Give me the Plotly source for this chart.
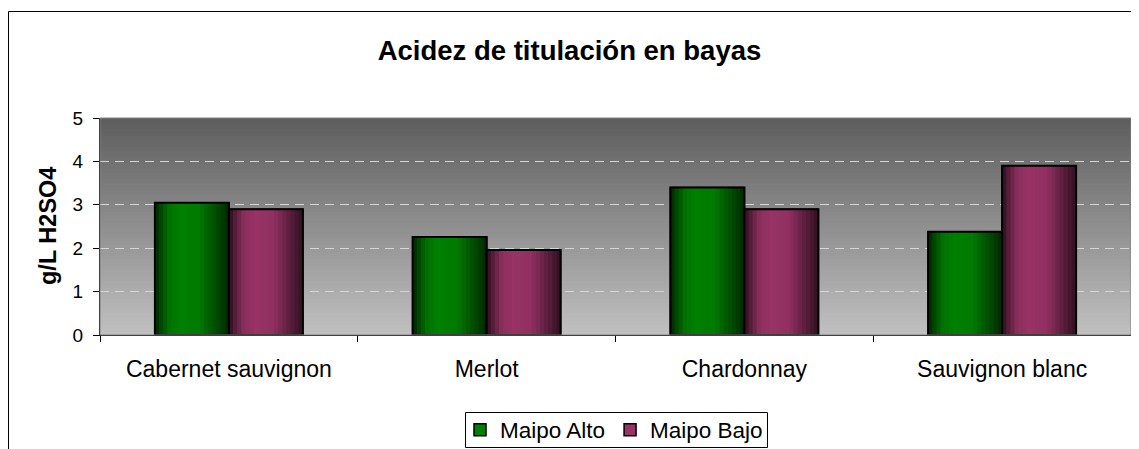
import plotly.graph_objects as go

# ---- data ----
categories = ["Cabernet sauvignon", "Merlot", "Chardonnay", "Sauvignon blanc"]
maipo_alto = [3.05, 2.26, 3.40, 2.38]
maipo_bajo = [2.90, 1.96, 2.90, 3.90]
series_names = ["Maipo Alto", "Maipo Bajo"]
title_text = "Acidez de titulación en bayas"
y_title = "g/L H2SO4"

# ---- styling ----
FONT = "Liberation Sans, Arial, sans-serif"
base_colors = [(0, 128, 0), (153, 51, 102)]
BAR_W = 0.287
offsets = [-BAR_W, 0.0]
N_STRIPS = 18
# brightness profile across a bar (dark edges, light centre)
profile = [(0.0, 0.28), (0.08, 0.55), (0.2, 0.9), (0.35, 1.0), (0.6, 0.95), (0.82, 0.6), (1.0, 0.32)]


def prof(t):
    for (t0, v0), (t1, v1) in zip(profile[:-1], profile[1:]):
        if t0 <= t <= t1:
            return v0 + (v1 - v0) * (t - t0) / (t1 - t0)
    return profile[-1][1]


def shade(rgb, f):
    return "rgb(%d,%d,%d)" % tuple(int(round(c * f)) for c in rgb)


fig = go.Figure()
for name, vals, rgb, off in zip(series_names, [maipo_alto, maipo_bajo], base_colors, offsets):
    fig.add_trace(go.Bar(
        x=categories, y=vals, name=name, width=BAR_W, offset=off,
        marker=dict(color=shade(rgb, 1.0), line=dict(color="black", width=1.5)),
        showlegend=True, hoverinfo="skip"))
    dw = BAR_W / N_STRIPS
    for k in range(N_STRIPS):
        t = (k + 0.5) / N_STRIPS
        fig.add_trace(go.Bar(
            x=categories, y=vals, width=BAR_W - k * dw, offset=off + k * dw,
            marker=dict(color=shade(rgb, prof(t)), line=dict(width=0)),
            showlegend=False, hoverinfo="skip"))
    fig.add_trace(go.Bar(
        x=categories, y=vals, width=BAR_W, offset=off,
        marker=dict(color="rgba(0,0,0,0)", line=dict(color="black", width=2)),
        showlegend=False, hoverinfo="skip"))

# page has an 8px body margin: figure is 1131x441 placed at (8,8)
W, H = 1131, 441
OFF = 8
L, T = 100 - OFF, 118 - OFF
R = W - (1131 - OFF)
B = H - (335 - OFF)
pw, ph = W - L - R, H - T - B


def px_x(p):  # page x -> paper x
    return (p - 100) / pw


def px_y(p):  # page y -> paper y
    return (335 - p) / ph


shapes = []
M = 60
top_c, bot_c = 92, 192
for i in range(M):
    f = i / M
    v = int(round(bot_c + (top_c - bot_c) * f))
    shapes.append(dict(type="rect", xref="paper", yref="paper", x0=0, x1=1, y0=f, y1=1,
                       fillcolor="rgb(%d,%d,%d)" % (v, v, v), line=dict(width=0), layer="below"))
shapes.append(dict(type="rect", xref="paper", yref="paper", x0=0, x1=1, y0=0, y1=1,
                   fillcolor="rgba(0,0,0,0)", line=dict(color="#808080", width=1), layer="above"))
# outer chart border (partly outside the image)
shapes.append(dict(type="rect", xref="paper", yref="paper",
                   x0=px_x(8.5), x1=px_x(1160), y0=px_y(470), y1=px_y(11.5),
                   fillcolor="rgba(0,0,0,0)", line=dict(color="black", width=1), layer="above"))
# legend box
shapes.append(dict(type="rect", xref="paper", yref="paper",
                   x0=px_x(465.5), x1=px_x(767.5), y0=px_y(447.5), y1=px_y(412.5),
                   fillcolor="white", line=dict(color="black", width=1), layer="above"))

fig.update_layout(
    width=W, height=H,
    margin=dict(l=L, r=R, t=T, b=B, autoexpand=False),
    paper_bgcolor="white", plot_bgcolor="#c0c0c0",
    barmode="overlay",
    font=dict(family=FONT, color="black"),
    title=dict(text="<b>%s</b>" % title_text, x=(569.5 - OFF) / W, xref="container", xanchor="center",
               y=1 - (50 - OFF) / H, yref="container", yanchor="middle",
               font=dict(size=27.5, family=FONT, color="black")),
    showlegend=True,
    legend=dict(orientation="h", x=px_x(614), xanchor="center", xref="paper",
                y=1 - (430 - OFF) / H, yref="container", yanchor="middle",
                borderwidth=0, bgcolor="rgba(0,0,0,0)",
                font=dict(size=22.5, family=FONT), itemwidth=30,
                traceorder="normal"),
    shapes=shapes,
    annotations=[dict(text="<b>%s</b>" % y_title, textangle=-90, xref="paper", yref="paper",
                      x=px_x(48), y=px_y(226), xanchor="center", yanchor="middle",
                      showarrow=False, font=dict(size=23.5, family=FONT, color="black"))],
)
fig.update_xaxes(type="category", range=[-0.5, 3.5], showline=True, linecolor="black", linewidth=1,
                 ticks="outside", tickson="boundaries", ticklen=6, tickcolor="black",
                 showgrid=False, tickfont=dict(size=23, family=FONT), ticklabelstandoff=13,
                 automargin=False)
fig.update_yaxes(range=[0, 5], dtick=1, showline=True, linecolor="black", linewidth=1,
                 ticks="outside", ticklen=6, tickcolor="black",
                 showgrid=True, gridcolor="#d6d6d6", gridwidth=1, griddash="9px,6px",
                 zeroline=False, tickfont=dict(size=19, family=FONT), ticklabelstandoff=6,
                 automargin=False)

fig.write_html("out.html")
